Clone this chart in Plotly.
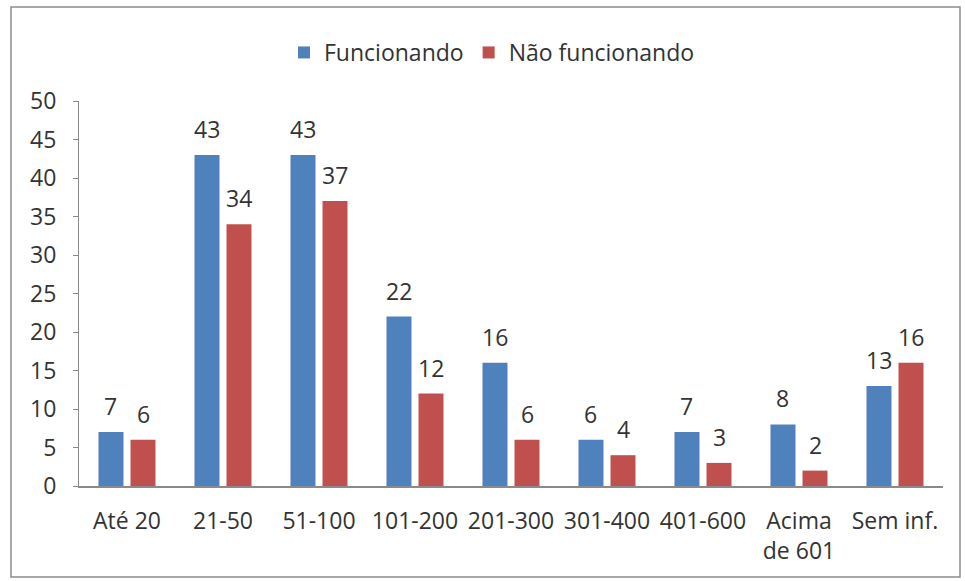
import plotly.graph_objects as go

# Faixas e contagens por situação
faixas = ["Até 20", "21-50", "51-100", "101-200", "201-300", "301-400",
          "401-600", "Acima<br>de 601", "Sem inf."]
funcionando = [7, 43, 43, 22, 16, 6, 7, 8, 13]
nao_funcionando = [6, 34, 37, 12, 6, 4, 3, 2, 16]
y_ticks = [0, 5, 10, 15, 20, 25, 30, 35, 40, 45, 50]

AZUL = "#4F81BD"
VERMELHO = "#C0504D"
TEXTO = "#333333"
EIXO = "#8a8a8a"
FONTE = "Open Sans"

W, H = 965, 581
ML, MR, MT, MB = 79, 22, 101, 95
PW, PH = W - ML - MR, H - MT - MB

fig = go.Figure()
fig.add_trace(go.Bar(name="Funcionando", x=faixas, y=funcionando,
                     marker=dict(color=AZUL, line=dict(width=0))))
fig.add_trace(go.Bar(name="Não funcionando", x=faixas, y=nao_funcionando,
                     marker=dict(color=VERMELHO, line=dict(width=0))))

# rótulos de valor acima de cada barra
bargap = 0.333
grupo = (PW / len(faixas)) * (1 - bargap)
desloc = grupo / 4
for serie, sinal in ((funcionando, -1), (nao_funcionando, 1)):
    for cat, v in zip(faixas, serie):
        fig.add_annotation(x=cat, y=v, text=str(v), showarrow=False,
                           xshift=sinal * desloc, yshift=26, yanchor="middle",
                           font=dict(family=FONTE, size=23, color=TEXTO))

# moldura do gráfico
def px_x(p):
    return (p - ML) / PW

def px_y(p):
    return (MT + PH - p) / PH

fig.add_shape(type="rect", xref="paper", yref="paper",
              x0=px_x(11), x1=px_x(960), y0=px_y(577), y1=px_y(7),
              line=dict(color="#8c8c8c", width=1.5), layer="below")

fig.update_layout(
    width=W, height=H,
    margin=dict(l=ML, r=MR, t=MT, b=MB),
    paper_bgcolor="white", plot_bgcolor="white",
    barmode="group", bargap=bargap, bargroupgap=0.22,
    font=dict(family=FONTE, size=23, color=TEXTO),
    showlegend=True,
    legend=dict(orientation="h", x=px_x(284), xanchor="left",
                y=px_y(31), yanchor="top",
                font=dict(family=FONTE, size=23, color=TEXTO),
                bgcolor="rgba(0,0,0,0)", itemclick=False),
    xaxis=dict(showline=True, linecolor=EIXO, linewidth=1.5,
               ticks="", showgrid=False, zeroline=False,
               tickfont=dict(family=FONTE, size=23, color=TEXTO),
               ticklabelstandoff=14, fixedrange=True),
    yaxis=dict(range=[0, 50], tickvals=y_ticks, showline=True,
               linecolor=EIXO, linewidth=1.2, ticks="outside", ticklen=5,
               tickcolor=EIXO, showgrid=False, zeroline=False,
               tickfont=dict(family=FONTE, size=23, color=TEXTO),
               ticklabelstandoff=12, fixedrange=True),
)

fig.write_html("out.html")
